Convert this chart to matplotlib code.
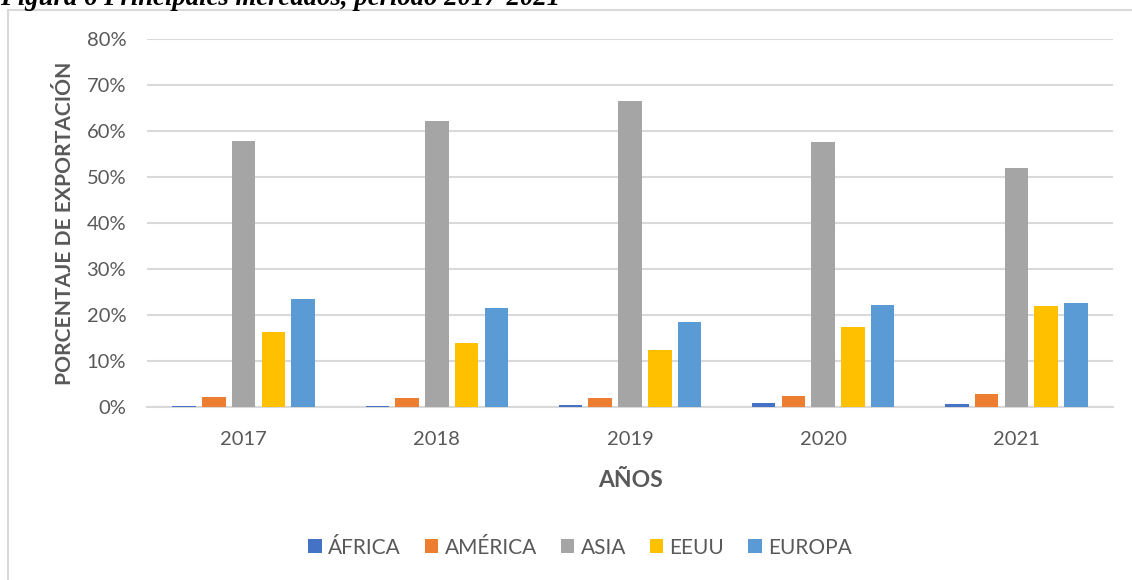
import numpy as np
import matplotlib
matplotlib.use("Agg")
import matplotlib.pyplot as plt
from matplotlib.patches import Rectangle
from matplotlib.ticker import PercentFormatter

# data (percent of exports)
years = ["2017", "2018", "2019", "2020", "2021"]
regions = ["ÁFRICA", "AMÉRICA", "ASIA", "EEUU", "EUROPA"]
africa = [0.3, 0.3, 0.5, 0.8, 0.7]
america = [2.1, 2.0, 1.9, 2.3, 2.8]
asia = [57.8, 62.2, 66.6, 57.5, 52.0]
eeuu = [16.3, 14.0, 12.4, 17.4, 21.9]
europa = [23.4, 21.5, 18.5, 22.1, 22.7]
colors = ["#4472C4", "#ED7D31", "#A5A5A5", "#FFC000", "#5B9BD5"]

plt.rcParams["font.family"] = ["Lato", "DejaVu Sans"]
txt = "#595959"
grid = "#D9D9D9"

fig = plt.figure(figsize=(11.32, 5.8), dpi=100)
ax = fig.add_axes([147 / 1132, 1 - 407 / 580, 966 / 1132, 368 / 580])

# chart border
fig.patches.append(Rectangle((8 / 1132, -0.01), 1.0, 1 - 10 / 580 + 0.01,
                             transform=fig.transFigure, fill=False,
                             edgecolor=grid, linewidth=1.5))

x = np.arange(len(years))
step = 0.154
series = [africa, america, asia, eeuu, europa]
for i, (vals, name, c) in enumerate(zip(series, regions, colors)):
    ax.bar(x + (i - 2) * step, vals, width=0.122, color=c, label=name,
           zorder=3)

ax.set_xlim(-0.5, 4.5)
ax.set_ylim(0, 80)
ax.set_yticks(np.arange(0, 81, 10))
ax.yaxis.set_major_formatter(PercentFormatter(decimals=0))
ax.set_xticks(x)
ax.set_xticklabels(years)
ax.grid(axis="y", color=grid, linewidth=1.5, zorder=0)
for s in ["top", "right", "left"]:
    ax.spines[s].set_visible(False)
ax.spines["bottom"].set_color(grid)
ax.spines["bottom"].set_linewidth(1.5)
ax.tick_params(axis="both", length=0, labelsize=14.5, colors=txt)
ax.tick_params(axis="y", pad=15)
ax.tick_params(axis="x", pad=17)

ax.set_ylabel("PORCENTAJE DE EXPORTACIÓN", fontsize=15.1, fontweight="bold",
              color=txt, labelpad=8)
ax.set_xlabel("AÑOS", fontsize=16.5, fontweight="bold", color=txt,
              labelpad=16)

ax.legend(loc="center", bbox_to_anchor=((580 - 147) / 966, -0.382), ncol=5,
          frameon=False, fontsize=15, labelcolor=txt, handlelength=0.65,
          handleheight=0.65, handletextpad=0.3, columnspacing=1.15)

fig.text(0.0, 1 - 5 / 580, "Figura 6 Principales mercados, periodo 2017-2021",
         family="Liberation Serif", fontsize=19.3, fontweight="bold",
         style="italic", va="baseline", ha="left")

fig.savefig("out.png", dpi=100)
